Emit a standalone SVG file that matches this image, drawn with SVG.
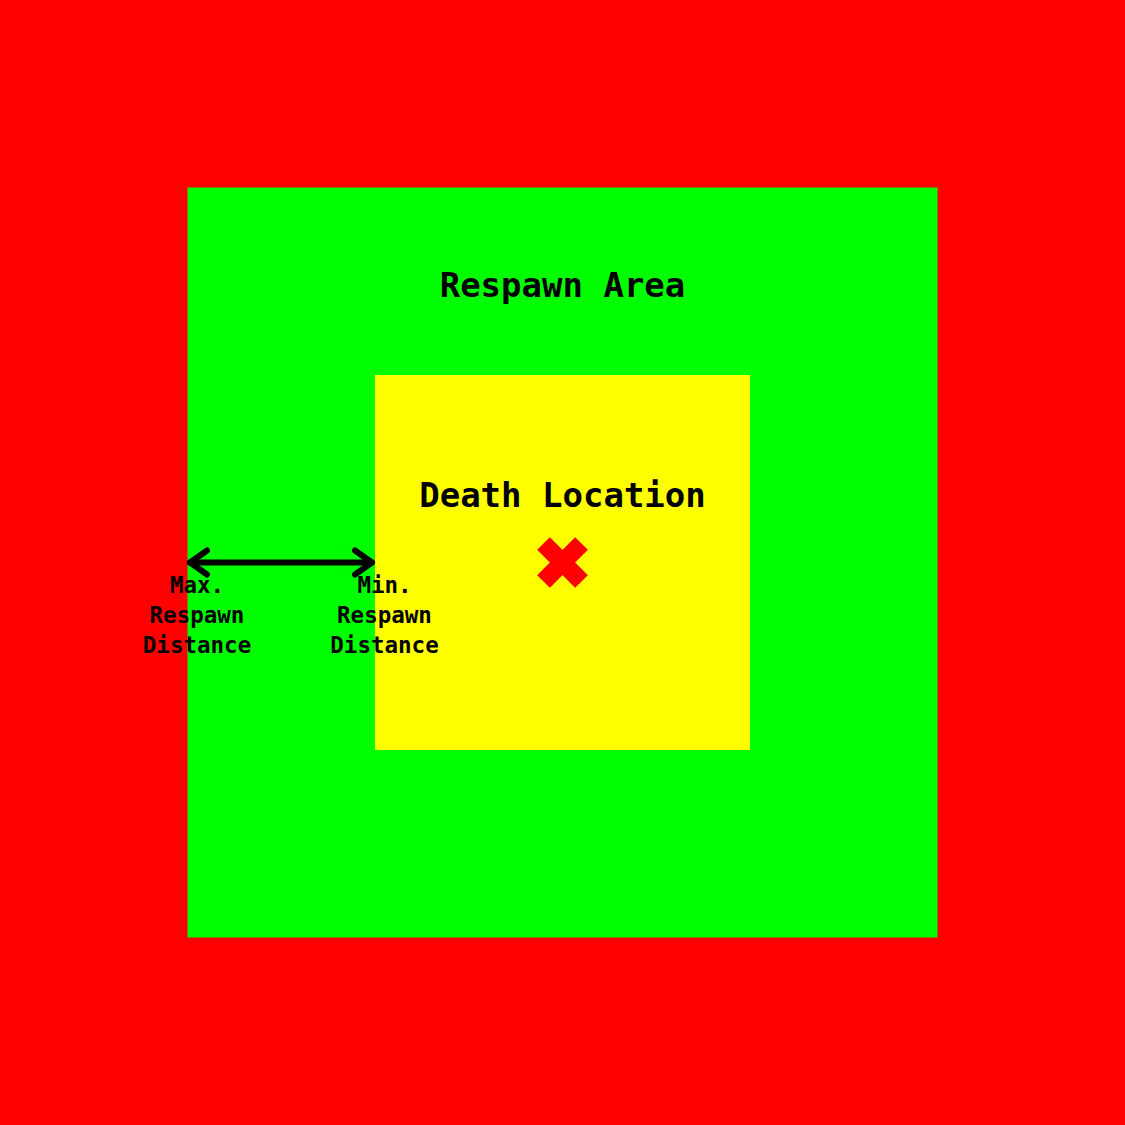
<svg xmlns="http://www.w3.org/2000/svg" width="1125" height="1125" viewBox="0 0 1125 1125">
<style>
text{font-family:"DejaVu Sans Mono","Liberation Mono",monospace;font-weight:bold;fill:#000;text-anchor:middle}
.big{font-size:34px}
.small{font-size:22.5px}
.conn{stroke:#000;stroke-width:6;fill:none;stroke-linecap:round;stroke-linejoin:round}
</style>
<g id="outside"><rect x="0" y="0" width="1125" height="1125" fill="#ff0000"/></g>
<g id="respawn-area"><rect x="187.5" y="187.5" width="750" height="750" fill="#00ff00"/>
<text class="big" x="562.5" y="297">Respawn Area</text></g>
<g id="death-location"><rect x="375" y="375" width="375" height="375" fill="#ffff00"/>
<text class="big" x="562.5" y="507">Death Location</text>
<g stroke="#ff0000" stroke-width="18"><line x1="543.5" y1="543.5" x2="581.5" y2="581.5"/><line x1="581.5" y1="543.5" x2="543.5" y2="581.5"/></g></g>
<g id="connectors">
<line class="conn" x1="190" y1="562.5" x2="372" y2="562.5"/>
<polyline class="conn" points="207,550.5 190,562.5 207,574.5"/>
<polyline class="conn" points="355,550.5 372,562.5 355,574.5"/>
</g>
<g id="max-label"><text class="small" x="197" y="593">Max.</text><text class="small" x="197" y="623">Respawn</text><text class="small" x="197" y="653">Distance</text></g>
<g id="min-label"><text class="small" x="384.5" y="593">Min.</text><text class="small" x="384.5" y="623">Respawn</text><text class="small" x="384.5" y="653">Distance</text></g>
</svg>
